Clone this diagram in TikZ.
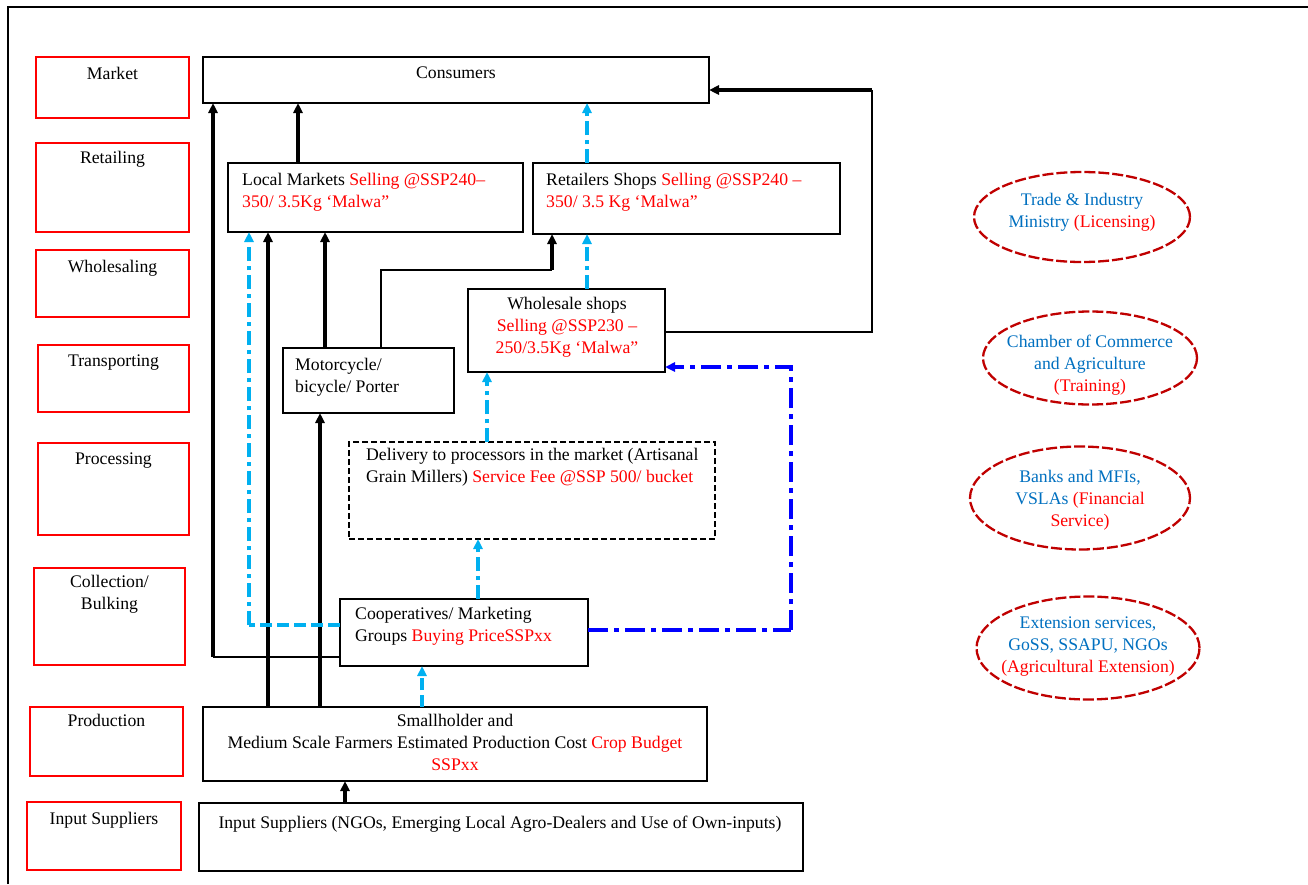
\documentclass[tikz,border=0pt]{standalone}
\usepackage{fontspec}
\setmainfont{Liberation Serif}
\usetikzlibrary{arrows.meta,calc,fit,shapes.geometric}
\definecolor{cyanL}{HTML}{00B0F0}
\definecolor{blueD}{HTML}{0000FF}
\definecolor{txtblue}{HTML}{0070C0}
\definecolor{ellred}{HTML}{C00000}
\begin{document}
\begin{tikzpicture}[x=1pt,y=-1pt,
  box/.style={draw=black, line width=1.8pt, inner sep=0pt, outer sep=0pt},
  dbox/.style={draw=black, line width=2.6pt, dash pattern=on 6pt off 3pt, inner sep=0pt, outer sep=0pt},
  lab/.style={draw=red, line width=1.5pt, inner sep=0pt, outer sep=0pt},
  ell/.style={ellipse, draw=ellred, line width=2.3pt, dash pattern=on 11pt off 3pt, inner sep=0pt, outer sep=0pt},
  txt/.style={inner sep=0pt, font=\fontsize{17.7}{22}\selectfont},
  tip/.style={-{Triangle[length=10pt,width=9pt]}},
  thk/.style={line width=3.2pt},
  thn/.style={line width=1.8pt},
  cdd/.style={draw=cyanL, line width=3.5pt, dash pattern=on 14pt off 5pt on 4pt off 5pt},
  cdash/.style={draw=cyanL, line width=3.5pt, dash pattern=on 12pt off 5pt},
  bdd/.style={draw=blueD, line width=4pt, dash pattern=on 20pt off 6pt on 5pt off 6pt},
]
\useasboundingbox (0,0) rectangle (1308,884);
\fill[white] (0,0) rectangle (1308,884);
\draw[line width=2pt] (8,884) -- (8,7) -- (1308,7);

% left stage labels
\node[lab, fit={(36,57)(189,118)}] (lmarket) {};
\node[lab, fit={(36,143)(189,232)}] (lretail) {};
\node[lab, fit={(36,250)(189,317)}] (lwhole) {};
\node[lab, fit={(38,345)(189,412)}] (ltrans) {};
\node[lab, fit={(38,443)(189,535)}] (lproc) {};
\node[lab, fit={(34,568)(185,665)}] (lcoll) {};
\node[lab, fit={(30,707)(183,776)}] (lprod) {};
\node[lab, fit={(27,802)(181,870)}] (linput) {};
\node[txt, anchor=north] at ($(lmarket.north)+(0,10)$) {Market};
\node[txt, anchor=north] at ($(lretail.north)+(0,8)$) {Retailing};
\node[txt, anchor=north] at ($(lwhole.north)+(0,10)$) {Wholesaling};
\node[txt, anchor=north] at ($(ltrans.north)+(0,10)$) {Transporting};
\node[txt, anchor=north] at ($(lproc.north)+(0,10)$) {Processing};
\node[txt, anchor=north, align=center] at ($(lcoll.north)+(0,7)$) {Collection/\\Bulking};
\node[txt, anchor=north] at ($(lprod.north)+(0,7)$) {Production};
\node[txt, anchor=north] at ($(linput.north)+(0,10)$) {Input Suppliers};

% main boxes
\node[box, fit={(203,57)(709,103)}] (cons) {};
\node[box, fit={(228,163)(523,232)}] (lm) {};
\node[box, fit={(533,163)(840,234)}] (rs) {};
\node[box, fit={(468,289)(665,372)}] (ws) {};
\node[box, fit={(283,348)(454,413)}] (mc) {};
\node[dbox, fit={(349,442)(715,539)}] (del) {};
\node[box, fit={(340,599)(588,666)}] (coop) {};
\node[box, fit={(203,707)(707,781)}] (sh) {};
\node[box, fit={(199,803)(803,871)}] (inp) {};

\node[txt, anchor=north] at (456,67) {Consumers};
\node[txt, anchor=north west, align=left] at (242,173) {Local Markets \textcolor{red}{Selling @SSP240–}\\\textcolor{red}{350/ 3.5Kg ‘Malwa”}};
\node[txt, anchor=north west, align=left] at (546,173) {Retailers Shops \textcolor{red}{Selling @SSP240 –}\\\textcolor{red}{350/ 3.5 Kg ‘Malwa”}};
\node[txt, anchor=north, align=center] at (567,297) {Wholesale shops\\\textcolor{red}{Selling @SSP230 –}\\\textcolor{red}{250/3.5Kg ‘Malwa”}};
\node[txt, anchor=north west, align=left] at (295,358) {Motorcycle/\\bicycle/ Porter};
\node[txt, anchor=north west, align=left] at (366,448) {Delivery to processors in the market (Artisanal\\Grain Millers) \textcolor{red}{Service Fee @SSP 500/ bucket}};
\node[txt, anchor=north west, align=left] at (355,607) {Cooperatives/ Marketing\\Groups \textcolor{red}{Buying PriceSSPxx}};
\node[txt, anchor=north, align=center] at (455,714) {Smallholder and\\Medium Scale Farmers Estimated Production Cost \textcolor{red}{Crop Budget}\\\textcolor{red}{SSPxx}};
\node[txt, anchor=north] at (500,816) {Input Suppliers (NGOs, Emerging Local Agro-Dealers and Use of Own-inputs)};

% ellipses
\node[ell, minimum width=216pt, minimum height=90pt] (e1) at (1082,217) {};
\node[ell, minimum width=214pt, minimum height=93pt] (e2) at (1090,358) {};
\node[ell, minimum width=220pt, minimum height=103pt] (e3) at (1080,498) {};
\node[ell, minimum width=223pt, minimum height=103pt] (e4) at (1088,648) {};
\node[txt, text=txtblue, anchor=north, align=center] at (1082,193) {Trade \& Industry\\Ministry \textcolor{red}{(Licensing)}};
\node[txt, text=txtblue, anchor=north, align=center] at (1090,335) {Chamber of Commerce\\and Agriculture\\\textcolor{red}{(Training)}};
\node[txt, text=txtblue, anchor=north, align=center] at (1080,470) {Banks and MFIs,\\VSLAs \textcolor{red}{(Financial}\\\textcolor{red}{Service)}};
\node[txt, text=txtblue, anchor=north, align=center] at (1088,617) {Extension services,\\GoSS, SSAPU, NGOs\\\textcolor{red}{(Agricultural Extension)}};

% helper coordinates
\coordinate (x213) at (213,0);
\coordinate (x249) at (249,0);
\coordinate (x268) at (268,0);
\coordinate (x298) at (298,0);
\coordinate (x320) at (320,0);
\coordinate (x325) at (325,0);
\coordinate (x345) at (345,0);
\coordinate (x381) at (381,0);
\coordinate (x422) at (422,0);
\coordinate (x478) at (478,0);
\coordinate (x487) at (487,0);
\coordinate (x552) at (552,0);
\coordinate (x587) at (587,0);
\coordinate (y90) at (0,90);
\coordinate (y332) at (0,332);
\coordinate (y367) at (0,367);
\coordinate (y625) at (0,625);
\coordinate (y630) at (0,630);
\coordinate (y657) at (0,657);
\coordinate (c1) at (213,657);
\coordinate (c2) at (381,270);
\coordinate (c3) at (552,270);
\coordinate (c4) at (872,332);
\coordinate (c5) at (872,90);
\coordinate (c6) at (249,625);
\coordinate (c7) at (791,630);
\coordinate (c8) at (791,367);

% black connectors
\draw[thn] (coop.west |- y657) -- (c1);
\draw[thk, tip] (c1) -- (x213 |- cons.south);
\draw[thk, tip] (x298 |- lm.north) -- (x298 |- cons.south);
\draw[thk, tip] (x268 |- sh.north) -- (x268 |- lm.south);
\draw[thk, tip] (x325 |- mc.north) -- (x325 |- lm.south);
\draw[thk, tip] (x320 |- sh.north) -- (x320 |- mc.south);
\draw[thn] (x381 |- mc.north) -- (c2) -- (c3);
\draw[thk, tip] (c3) -- (x552 |- rs.south);
\draw[thn] (ws.east |- y332) -- (c4) -- (c5);
\draw[thk, line width=3.6pt, tip] (c5) -- (cons.east |- y90);
\draw[thk, tip] (x345 |- inp.north) -- (x345 |- sh.south);

% cyan connectors
\draw[cdash] (coop.west |- y625) -- (c6);
\draw[cdd, line width=4pt, tip] (c6) -- (x249 |- lm.south);
\draw[cdd, tip] (x587 |- rs.north) -- (x587 |- cons.south);
\draw[cdd, tip] (x587 |- ws.north) -- (x587 |- rs.south);
\draw[cdd, line width=4.5pt, tip] (x487 |- del.north) -- (x487 |- ws.south);
\draw[cdd, tip] (x478 |- coop.north) -- (x478 |- del.south);
\draw[cdash, tip] (x422 |- sh.north) -- (x422 |- coop.south);

% blue connector
\draw[bdd] (coop.east |- y630) -- (c7);
\draw[bdd, line width=3.2pt, tip] (c7) -- (c8) -- (ws.east |- y367);
\end{tikzpicture}
\end{document}
